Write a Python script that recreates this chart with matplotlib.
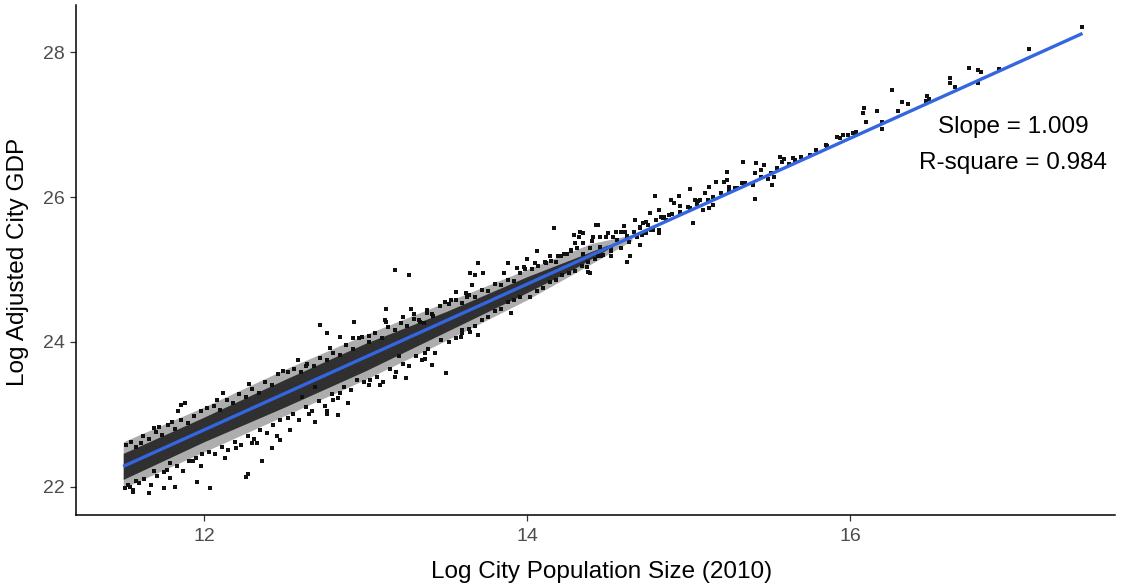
import matplotlib
matplotlib.use('Agg')
import matplotlib.pyplot as plt

plt.rcParams['font.family'] = ['Liberation Sans', 'DejaVu Sans']

# fitted (blue) line, read at its two ends
fit_x = [11.50, 17.44]
fit_y = [22.28, 28.26]

# envelope of the solid dense core of the cloud
core_x = [11.50, 12.00, 12.50, 13.00, 13.50, 14.00, 14.30, 14.50]
core_lo = [22.10, 22.62, 23.10, 23.60, 24.14, 24.68, 25.02, 25.28]
core_hi = [22.46, 22.96, 23.48, 23.98, 24.42, 24.90, 25.16, 25.34]

# envelope of the thinner, speckled zone around it
halo_x = [11.50, 12.00, 12.50, 13.00, 13.50, 14.00, 14.40, 14.65]
halo_lo = [21.98, 22.48, 22.98, 23.48, 24.02, 24.58, 25.08, 25.40]
halo_hi = [22.62, 23.10, 23.62, 24.10, 24.55, 25.00, 25.36, 25.48]

# points along the edges of the dense band (x, y)
band_above = [
    (11.52, 22.58), (11.55, 22.62), (11.58, 22.55), (11.62, 22.70), (11.66, 22.66), (11.70, 22.76),
    (11.74, 22.72), (11.78, 22.85), (11.82, 22.80), (11.86, 22.92), (11.90, 22.88), (11.94, 22.98),
    (11.98, 23.05), (11.61, 22.60), (11.72, 22.82), (11.80, 22.90),
    (12.02, 23.08), (12.06, 23.12), (12.10, 23.06), (12.14, 23.20), (12.18, 23.16), (12.22, 23.28),
    (12.26, 23.24), (12.30, 23.35), (12.34, 23.30), (12.38, 23.45), (12.42, 23.40), (12.46, 23.55),
    (12.49, 23.60), (12.08, 23.20), (12.28, 23.42),
    (12.52, 23.58), (12.56, 23.62), (12.60, 23.58), (12.64, 23.70), (12.68, 23.66), (12.72, 23.78),
    (12.76, 23.75), (12.80, 23.85), (12.84, 23.82), (12.88, 23.95), (12.92, 23.90), (12.96, 24.06),
    (12.58, 23.75), (12.78, 23.92),
    (13.02, 24.08), (13.06, 24.12), (13.10, 24.06), (13.14, 24.20), (13.18, 24.16), (13.22, 24.26),
    (13.26, 24.22), (13.30, 24.32), (13.34, 24.28), (13.38, 24.40), (13.42, 24.36), (13.46, 24.50),
    (13.49, 24.55), (13.12, 24.30), (13.28, 24.45),
    (13.52, 24.52), (13.56, 24.58), (13.60, 24.54), (13.64, 24.65), (13.68, 24.62), (13.72, 24.72),
    (13.76, 24.70), (13.80, 24.80), (13.84, 24.78), (13.88, 24.86), (13.92, 24.84), (13.96, 24.95),
    (13.99, 25.00), (13.66, 24.78), (13.86, 24.95),
    (14.03, 25.00), (14.07, 25.05), (14.11, 25.10), (14.15, 25.12), (14.19, 25.18), (14.23, 25.22),
    (14.27, 25.26), (14.31, 25.30), (14.35, 25.36), (14.40, 25.40), (14.45, 25.45), (14.50, 25.50),
    (14.55, 25.52), (14.60, 25.60),
]
band_below = [
    (11.51, 21.98), (11.53, 22.02), (11.56, 21.95), (11.60, 22.05), (11.63, 22.10), (11.67, 22.02),
    (11.71, 22.15), (11.75, 22.20), (11.79, 22.12), (11.83, 22.28), (11.87, 22.22), (11.91, 22.35),
    (11.95, 22.40), (11.99, 22.45), (11.58, 22.08), (11.69, 22.22),
    (12.03, 22.48), (12.07, 22.45), (12.11, 22.55), (12.15, 22.50), (12.19, 22.62), (12.23, 22.58),
    (12.27, 22.70), (12.31, 22.66), (12.35, 22.78), (12.39, 22.74), (12.43, 22.85), (12.47, 22.92),
    (12.13, 22.40), (12.33, 22.60), (12.45, 22.70),
    (12.52, 22.95), (12.55, 23.00), (12.59, 22.92), (12.63, 23.10), (12.67, 23.05), (12.71, 23.18),
    (12.75, 23.12), (12.79, 23.28), (12.83, 23.22), (12.87, 23.38), (12.91, 23.33), (12.95, 23.48),
    (12.99, 23.45), (12.69, 22.90), (12.89, 23.15),
    (13.03, 23.48), (13.07, 23.52), (13.11, 23.45), (13.15, 23.62), (13.19, 23.58), (13.23, 23.70),
    (13.27, 23.66), (13.31, 23.80), (13.35, 23.75), (13.39, 23.90), (13.43, 23.85), (13.47, 24.02),
    (13.25, 23.50), (13.41, 23.68),
    (13.52, 24.00), (13.56, 24.05), (13.60, 24.12), (13.64, 24.18), (13.68, 24.22), (13.72, 24.30),
    (13.76, 24.34), (13.80, 24.42), (13.84, 24.46), (13.88, 24.55), (13.92, 24.58), (13.96, 24.62),
    (13.70, 24.10), (13.90, 24.40),
    (14.02, 24.62), (14.06, 24.70), (14.10, 24.75), (14.14, 24.82), (14.18, 24.86), (14.22, 24.92),
    (14.26, 24.95), (14.30, 24.98), (14.34, 25.05), (14.38, 25.10), (14.42, 25.15), (14.47, 25.20),
    (14.52, 25.25), (14.58, 25.30), (14.63, 25.38), (14.68, 25.45), (14.73, 25.50),
]
# thinner part of the cloud, 14.6 - 15.8
band_upper = [
    (14.62, 25.46), (14.66, 25.52), (14.70, 25.58), (14.75, 25.62), (14.78, 25.55), (14.85, 25.72),
    (14.90, 25.76), (14.95, 25.80), (15.00, 25.86), (15.05, 25.90), (15.15, 26.00), (15.20, 26.05),
    (15.25, 26.08), (15.30, 26.12), (15.35, 26.20), (15.45, 26.28), (15.55, 26.40), (15.62, 26.45),
    (15.70, 26.55), (15.75, 26.58),
]
# scattered points
outliers = [
    (17.44, 28.35), (17.11, 28.04), (16.74, 27.78), (16.79, 27.75), (16.81, 27.73), (16.79, 27.57),
    (16.92, 27.77), (16.62, 27.64), (16.62, 27.57), (16.65, 27.52), (16.26, 27.48), (16.48, 27.40),
    (16.49, 27.35), (16.47, 27.33), (16.32, 27.31), (16.36, 27.29), (16.09, 27.23), (16.17, 27.19),
    (16.08, 27.16), (16.30, 27.19), (16.10, 27.04), (16.20, 27.04), (16.20, 26.94), (16.02, 26.89),
    (16.04, 26.90), (15.92, 26.83), (15.96, 26.86), (15.94, 26.81), (15.99, 26.86), (16.04, 26.88),
    (15.85, 26.72), (15.79, 26.65), (15.86, 26.70), (15.65, 26.54), (15.66, 26.51), (15.57, 26.56),
    (15.58, 26.49), (15.59, 26.52), (15.34, 26.49), (15.42, 26.47), (15.47, 26.44), (15.45, 26.37),
    (15.24, 26.35), (15.41, 26.33), (15.51, 26.33), (15.49, 26.25), (15.52, 26.17), (15.53, 26.28),
    (15.41, 25.97), (15.17, 26.21), (15.22, 26.21), (15.24, 26.24), (15.25, 26.14), (15.29, 26.12),
    (15.33, 26.19), (15.40, 26.17), (15.01, 26.11), (14.79, 26.01), (14.94, 26.01), (15.13, 26.14),
    (15.10, 26.05), (15.07, 25.96), (14.89, 25.96), (14.91, 25.92), (14.95, 25.87), (15.01, 25.85),
    (15.04, 25.96), (15.06, 25.94), (15.12, 25.96), (15.09, 25.82), (15.13, 25.85), (15.15, 25.89),
    (14.82, 25.82), (14.83, 25.73), (14.84, 25.71), (14.88, 25.75), (14.76, 25.78), (14.80, 25.68),
    (14.86, 25.68), (15.03, 25.64), (14.67, 25.69), (14.72, 25.64), (14.74, 25.66), (14.77, 25.55),
    (14.82, 25.55), (14.82, 25.50), (14.70, 25.57), (14.71, 25.48), (14.70, 25.34), (14.74, 25.50),
    (14.61, 25.52), (14.58, 25.52), (14.53, 25.45), (14.49, 25.45), (14.44, 25.61), (14.41, 25.45),
    (14.39, 25.29), (14.45, 25.31), (14.52, 25.31), (14.56, 25.41), (14.64, 25.18), (14.62, 25.11),
    (14.52, 25.18), (14.46, 25.18), (14.44, 25.18), (14.37, 25.04), (14.38, 24.97), (14.39, 24.95),
    (14.35, 25.22), (14.17, 25.57), (14.29, 25.48), (14.33, 25.52), (14.35, 25.50), (14.32, 25.45),
    (14.43, 25.61), (14.41, 25.45), (14.30, 25.36), (14.27, 25.27), (14.25, 25.22), (14.21, 25.18),
    (14.18, 25.11), (14.14, 25.18), (14.12, 25.09), (14.06, 25.25), (14.00, 25.15), (14.05, 25.09),
    (13.98, 25.04), (13.88, 25.09), (13.94, 25.02), (13.70, 25.09), (13.65, 24.95), (13.68, 24.92),
    (13.73, 24.95), (13.56, 24.69), (13.53, 24.58), (13.62, 24.67), (13.63, 24.62), (13.18, 24.99),
    (13.27, 24.92), (13.13, 24.46), (12.93, 24.28), (12.72, 24.23), (12.76, 24.12), (13.38, 24.44),
    (13.41, 24.39), (13.30, 24.39), (13.23, 24.35), (13.33, 24.30), (13.36, 24.26), (13.50, 23.57),
    (13.59, 24.07), (13.65, 24.14), (13.60, 24.16), (13.37, 23.84), (13.37, 23.77), (13.21, 23.80),
    (13.18, 23.52), (13.09, 23.40), (13.02, 23.40), (12.84, 23.29), (12.80, 23.20), (12.83, 22.99),
    (12.76, 23.04), (12.65, 23.01), (12.61, 23.24), (12.69, 23.38), (12.63, 23.66), (12.84, 24.07),
    (12.92, 24.05), (12.98, 24.07), (13.02, 24.00), (13.13, 24.28), (12.12, 23.29), (11.88, 23.15),
    (11.86, 23.13), (11.84, 23.04), (11.69, 22.81), (12.20, 22.53), (12.30, 22.60), (12.42, 22.53),
    (12.47, 22.64), (12.53, 22.78), (12.65, 23.01), (12.76, 23.01), (12.36, 22.35), (12.26, 22.14),
    (12.27, 22.18), (12.04, 21.98), (11.96, 22.07), (11.82, 22.00), (11.75, 21.98), (11.66, 21.91),
    (11.56, 21.93), (11.54, 22.00), (11.93, 22.35), (11.98, 22.28), (11.77, 22.23), (11.79, 22.32),
]

slope_text = 'Slope = 1.009'
rsq_text = 'R-square = 0.984'

fig = plt.figure(figsize=(11.27, 5.87), dpi=100)
ax = fig.add_axes([0.0674, 0.1227, 0.9219, 0.8688])

ax.fill_between(halo_x, halo_lo, halo_hi, color='black', linewidth=0, alpha=0.32, zorder=1)
ax.fill_between(core_x, core_lo, core_hi, color='#111111', linewidth=0, alpha=0.8, zorder=1)

pts = band_above + band_below + band_upper + outliers
ax.scatter([p[0] for p in pts], [p[1] for p in pts], s=7, marker='s', color='#111111',
           linewidths=0, zorder=2)

ax.plot(fit_x, fit_y, color='#3366e0', linewidth=2.4, zorder=3, solid_capstyle='butt')

ax.text(17.01, 26.97, slope_text, ha='center', va='center', fontsize=17.5, color='black')
ax.text(17.01, 26.47, rsq_text, ha='center', va='center', fontsize=17.5, color='black')

ax.set_xlim(11.2074, 17.641)
ax.set_ylim(21.609, 28.653)
ax.set_xticks([12, 14, 16])
ax.set_yticks([22, 24, 26, 28])

for s in ['top', 'right']:
    ax.spines[s].set_visible(False)
for s in ['left', 'bottom']:
    ax.spines[s].set_linewidth(1.1)
    ax.spines[s].set_color('black')

ax.tick_params(axis='both', length=4.3, width=0.9, color='#333333', labelsize=14,
               labelcolor='#4d4d4d')
ax.tick_params(axis='x', pad=5)
ax.tick_params(axis='y', pad=4)

fig.text(602 / 1127, 1 - 572 / 587, 'Log City Population Size (2010)', ha='center', va='center',
         fontsize=17.5)
fig.text(18 / 1127, 1 - 262 / 587, 'Log Adjusted City GDP', ha='center', va='center',
         rotation=90, fontsize=17.5)

fig.savefig('out.png', dpi=100)
